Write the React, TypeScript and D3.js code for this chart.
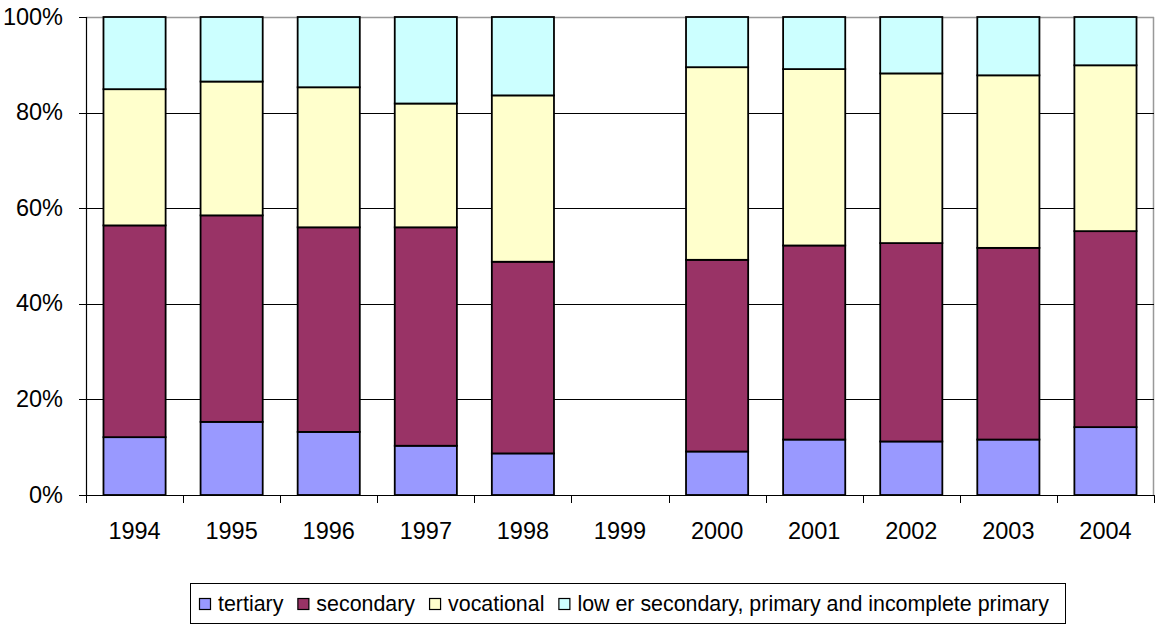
import React from "react";
import * as d3 from "d3";

const years = ["1994", "1995", "1996", "1997", "1998", "1999", "2000", "2001", "2002", "2003", "2004"];
const tertiary = [12.1, 15.3, 13.2, 10.3, 8.7, 0, 9.1, 11.6, 11.2, 11.6, 14.2];
const secondary = [44.3, 43.2, 42.8, 45.7, 40.1, 0, 40.1, 40.6, 41.5, 40.1, 41.0];
const vocational = [28.5, 28.0, 29.3, 25.9, 34.8, 0, 40.3, 36.9, 35.5, 36.1, 34.7];
const lower = [15.1, 13.5, 14.7, 18.1, 16.4, 0, 10.5, 10.9, 11.8, 12.2, 10.1];
const seriesNames = ["tertiary", "secondary", "vocational", "low er secondary, primary and incomplete primary"];
const seriesKeys = ["tertiary", "secondary", "vocational", "lower"];
const seriesColors = ["#9999FF", "#993366", "#FFFFCC", "#CCFFFF"];
const yTicks = [0, 20, 40, 60, 80, 100];

const W = 1156;
const H = 624;
const plot = { left: 86, right: 1154, top: 17, bottom: 495 };
const FONT = "'Liberation Sans', Arial, sans-serif";

function measure(text: string, size: number): number {
  const c = document.createElement("canvas");
  const ctx = c.getContext("2d")!;
  ctx.font = `${size}px 'Liberation Sans', Arial, sans-serif`;
  return ctx.measureText(text).width;
}

export default function App() {
  const rows = years.map((y, i) => ({
    year: y,
    tertiary: tertiary[i],
    secondary: secondary[i],
    vocational: vocational[i],
    lower: lower[i],
  }));
  const stack = d3.stack<any>().keys(seriesKeys)(rows);

  const x = d3
    .scaleBand<string>()
    .domain(years)
    .range([plot.left, plot.right])
    .paddingInner(0.36)
    .paddingOuter(0.18);
  const y = d3.scaleLinear().domain([0, 100]).range([plot.bottom, plot.top]);
  const step = x.step();
  const tickXs = d3.range(years.length + 1).map((i) => plot.left + i * step);

  const legendFont = 21.4;
  let cursor = 199;
  const legendItems = seriesNames.map((name, i) => {
    const sq = cursor;
    const tx = sq + 19;
    const w = measure(name, legendFont);
    cursor = tx + w + 14;
    return { name, color: seriesColors[i], sq, tx };
  });

  return (
    <svg
      width={W}
      height={H}
      style={{ position: "absolute", left: 0, top: 0, background: "#fff" }}
      fontFamily={FONT}
    >
      <line x1={plot.left} x2={plot.right} y1={plot.top + 0.5} y2={plot.top + 0.5} stroke="#999" strokeWidth={1.5} />
      <line x1={plot.right - 0.5} x2={plot.right - 0.5} y1={plot.top} y2={plot.bottom} stroke="#999" strokeWidth={1.5} />
      {yTicks
        .filter((t) => t > 0 && t < 100)
        .map((t) => (
          <line key={t} x1={plot.left} x2={plot.right} y1={Math.round(y(t)) + 0.5} y2={Math.round(y(t)) + 0.5} stroke="#000" strokeWidth={1} />
        ))}
      {yTicks.map((t) => (
        <g key={t}>
          <line x1={plot.left - 7} x2={plot.left} y1={Math.round(y(t)) + 0.5} y2={Math.round(y(t)) + 0.5} stroke="#000" />
          <text x={63} y={y(t) + 7.5} textAnchor="end" fontSize={23.5} fill="#000">
            {t}%
          </text>
        </g>
      ))}
      {stack.map((layer, si) => (
        <g key={seriesKeys[si]}>
          {layer.map((d: any, i: number) => {
            if (d[1] - d[0] <= 0) return null;
            return (
              <rect
                key={years[i]}
                x={x(years[i])}
                y={y(d[1])}
                width={x.bandwidth()}
                height={y(d[0]) - y(d[1])}
                fill={seriesColors[si]}
                stroke="#000"
                strokeWidth={1.8}
              />
            );
          })}
        </g>
      ))}
      <line x1={plot.left + 0.5} x2={plot.left + 0.5} y1={plot.top} y2={plot.bottom} stroke="#000" strokeWidth={1.2} />
      <line x1={plot.left} x2={plot.right} y1={plot.bottom + 0.5} y2={plot.bottom + 0.5} stroke="#000" strokeWidth={1.2} />
      {tickXs.map((tx, i) => (
        <line key={i} x1={Math.round(tx) + 0.5} x2={Math.round(tx) + 0.5} y1={plot.bottom} y2={plot.bottom + 8} stroke="#000" />
      ))}
      {years.map((yr) => (
        <text key={yr} x={x(yr)! + x.bandwidth() / 2} y={539} textAnchor="middle" fontSize={23.5} fill="#000">
          {yr}
        </text>
      ))}
      <rect x={190.5} y={583.5} width={875} height={40} fill="#fff" stroke="#000" strokeWidth={1} />
      {legendItems.map((it) => (
        <g key={it.name}>
          <rect x={it.sq + 0.5} y={598.5} width={11} height={11} fill={it.color} stroke="#000" strokeWidth={1.2} />
          <text x={it.tx} y={611} fontSize={legendFont} fill="#000">
            {it.name}
          </text>
        </g>
      ))}
    </svg>
  );
}
